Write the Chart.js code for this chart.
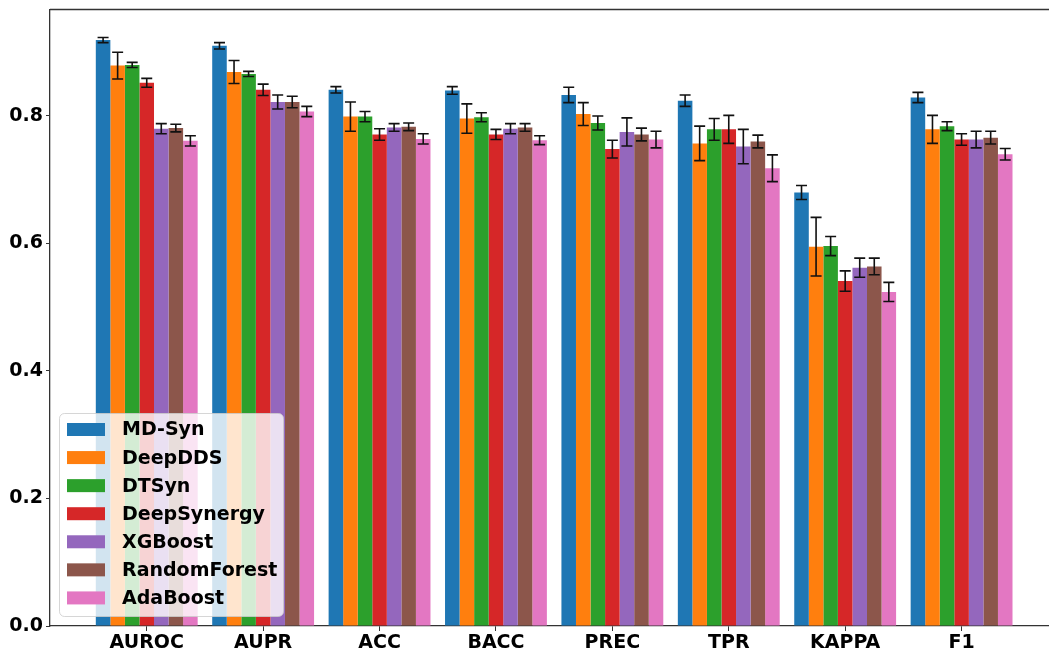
<!DOCTYPE html>
<html>
<head>
<meta charset="utf-8">
<script src="https://cdn.jsdelivr.net/npm/chart.js@4"></script>
<style>
  html, body { margin: 0; padding: 0; background: #fff; overflow: hidden; }
  #wrap { width: 1049px; height: 649px; }
</style>
</head>
<body>
<div id="wrap"><canvas id="scoreChart"></canvas></div>
<script>
var CATEGORIES = ['AUROC', 'AUPR', 'ACC', 'BACC', 'PREC', 'TPR', 'KAPPA', 'F1'];
var MODELS = ['MD-Syn', 'DeepDDS', 'DTSyn', 'DeepSynergy', 'XGBoost', 'RandomForest', 'AdaBoost'];
var COLORS = ['#1f77b4', '#ff7f0e', '#2ca02c', '#d62728', '#9467bd', '#8c564b', '#e377c2'];
var Y_TICKS = [0.0, 0.2, 0.4, 0.6, 0.8];

// mean values per metric
var MD_SYN       = [0.919, 0.910, 0.841, 0.840, 0.833, 0.824, 0.680, 0.829];
var DEEPDDS      = [0.879, 0.869, 0.799, 0.796, 0.803, 0.757, 0.595, 0.779];
var DTSYN        = [0.880, 0.866, 0.799, 0.798, 0.789, 0.779, 0.596, 0.784];
var DEEPSYNERGY  = [0.852, 0.841, 0.771, 0.771, 0.748, 0.779, 0.541, 0.763];
var XGBOOST      = [0.780, 0.822, 0.782, 0.780, 0.775, 0.752, 0.562, 0.763];
var RANDOMFOREST = [0.781, 0.822, 0.783, 0.782, 0.771, 0.760, 0.564, 0.766];
var ADABOOST     = [0.761, 0.807, 0.764, 0.762, 0.763, 0.718, 0.524, 0.740];

// error bar half-lengths
var MD_SYN_ERR       = [0.004, 0.005, 0.005, 0.006, 0.012, 0.009, 0.011, 0.008];
var DEEPDDS_ERR      = [0.021, 0.018, 0.023, 0.023, 0.018, 0.027, 0.046, 0.022];
var DTSYN_ERR        = [0.004, 0.004, 0.008, 0.007, 0.011, 0.017, 0.015, 0.007];
var DEEPSYNERGY_ERR  = [0.007, 0.009, 0.009, 0.008, 0.014, 0.022, 0.016, 0.009];
var XGBOOST_ERR      = [0.008, 0.011, 0.006, 0.008, 0.022, 0.027, 0.015, 0.013];
var RANDOMFOREST_ERR = [0.006, 0.009, 0.006, 0.006, 0.010, 0.010, 0.013, 0.010];
var ADABOOST_ERR     = [0.008, 0.008, 0.008, 0.007, 0.013, 0.021, 0.015, 0.009];

var VALUES = [MD_SYN, DEEPDDS, DTSYN, DEEPSYNERGY, XGBOOST, RANDOMFOREST, ADABOOST];
var ERRORS = [MD_SYN_ERR, DEEPDDS_ERR, DTSYN_ERR, DEEPSYNERGY_ERR, XGBOOST_ERR, RANDOMFOREST_ERR, ADABOOST_ERR];

Chart.defaults.font.family = 'DejaVu Sans';
Chart.defaults.font.size = 19;
Chart.defaults.font.weight = 'bold';
Chart.defaults.color = '#000';

var datasets = MODELS.map(function (name, k) {
  return {
    label: name,
    data: VALUES[k].map(function (v, i) { return { x: i, y: v }; }),
    errors: ERRORS[k],
    backgroundColor: COLORS[k],
    borderWidth: 0,
    categoryPercentage: 0.875,
    barPercentage: 1.0
  };
});

// error bars with caps
var errorBars = {
  id: 'errorBars',
  afterDatasetsDraw: function (chart) {
    var ctx = chart.ctx;
    var y = chart.scales.y;
    ctx.save();
    ctx.strokeStyle = '#111';
    ctx.lineWidth = 1.6;
    chart.data.datasets.forEach(function (ds, d) {
      var meta = chart.getDatasetMeta(d);
      meta.data.forEach(function (bar, i) {
        var v = ds.data[i].y, e = ds.errors[i];
        var top = y.getPixelForValue(v + e);
        var bot = y.getPixelForValue(v - e);
        var cap = 5.5;
        ctx.beginPath();
        ctx.moveTo(bar.x, top); ctx.lineTo(bar.x, bot);
        ctx.moveTo(bar.x - cap, top); ctx.lineTo(bar.x + cap, top);
        ctx.moveTo(bar.x - cap, bot); ctx.lineTo(bar.x + cap, bot);
        ctx.stroke();
      });
    });
    ctx.restore();
  }
};

// top frame line + legend box inside the axes
var frameAndLegend = {
  id: 'frameAndLegend',
  afterDraw: function (chart) {
    var ctx = chart.ctx;
    var a = chart.chartArea;
    ctx.save();
    ctx.strokeStyle = '#333';
    ctx.lineWidth = 1.3;
    ctx.beginPath();
    ctx.moveTo(a.left, a.top);
    ctx.lineTo(a.right, a.top);
    ctx.stroke();

    var bx = 59.5, by = 413.5, bw = 224, bh = 203, r = 5;
    ctx.beginPath();
    ctx.roundRect(bx, by, bw, bh, r);
    ctx.fillStyle = 'rgba(255,255,255,0.8)';
    ctx.fill();
    ctx.strokeStyle = 'rgba(204,204,204,0.8)';
    ctx.lineWidth = 1;
    ctx.stroke();

    ctx.font = 'bold 19px "DejaVu Sans"';
    ctx.textBaseline = 'middle';
    ctx.textAlign = 'left';
    chart.data.datasets.forEach(function (ds, k) {
      var cy = 429.5 + k * 28.07;
      ctx.fillStyle = ds.backgroundColor;
      ctx.fillRect(67, cy - 6.5, 38, 13);
      ctx.fillStyle = '#000';
      ctx.fillText(ds.label, 122, cy + 1);
    });
    ctx.restore();
  }
};

new Chart(document.getElementById('scoreChart'), {
  type: 'bar',
  data: { datasets: datasets },
  plugins: [errorBars, frameAndLegend],
  options: {
    responsive: true,
    maintainAspectRatio: false,
    animation: false,
    layout: { padding: { left: 8, right: 0, top: 9.5, bottom: 0 } },
    plugins: {
      legend: { display: false },
      tooltip: { enabled: false }
    },
    scales: {
      x: {
        type: 'linear',
        min: -0.831,
        max: 7.751,
        offset: false,
        afterFit: function (s) {
          s.height = 23;
          s.paddingLeft = 0; s.paddingRight = 0;
        },
        afterBuildTicks: function (s) {
          s.ticks = CATEGORIES.map(function (c, i) { return { value: i }; });
        },
        ticks: {
          padding: 1,
          maxRotation: 0,
          autoSkip: false,
          callback: function (v) { return CATEGORIES[v]; }
        },
        grid: { offset: false, drawOnChartArea: false, drawTicks: true, tickLength: 5, color: '#333' },
        border: { display: true, color: '#333', width: 1.3 }
      },
      y: {
        min: 0,
        max: 0.967,
        afterFit: function (s) {
          s.width = 42;
          s.paddingTop = 0; s.paddingBottom = 0;
        },
        afterBuildTicks: function (s) {
          s.ticks = Y_TICKS.map(function (v) { return { value: v }; });
        },
        ticks: {
          padding: 3,
          callback: function (v) { return v.toFixed(1); }
        },
        grid: { drawOnChartArea: false, drawTicks: true, tickLength: 4, color: '#333' },
        border: { display: true, color: '#333', width: 1.3 }
      }
    }
  }
});
</script>
</body>
</html>
